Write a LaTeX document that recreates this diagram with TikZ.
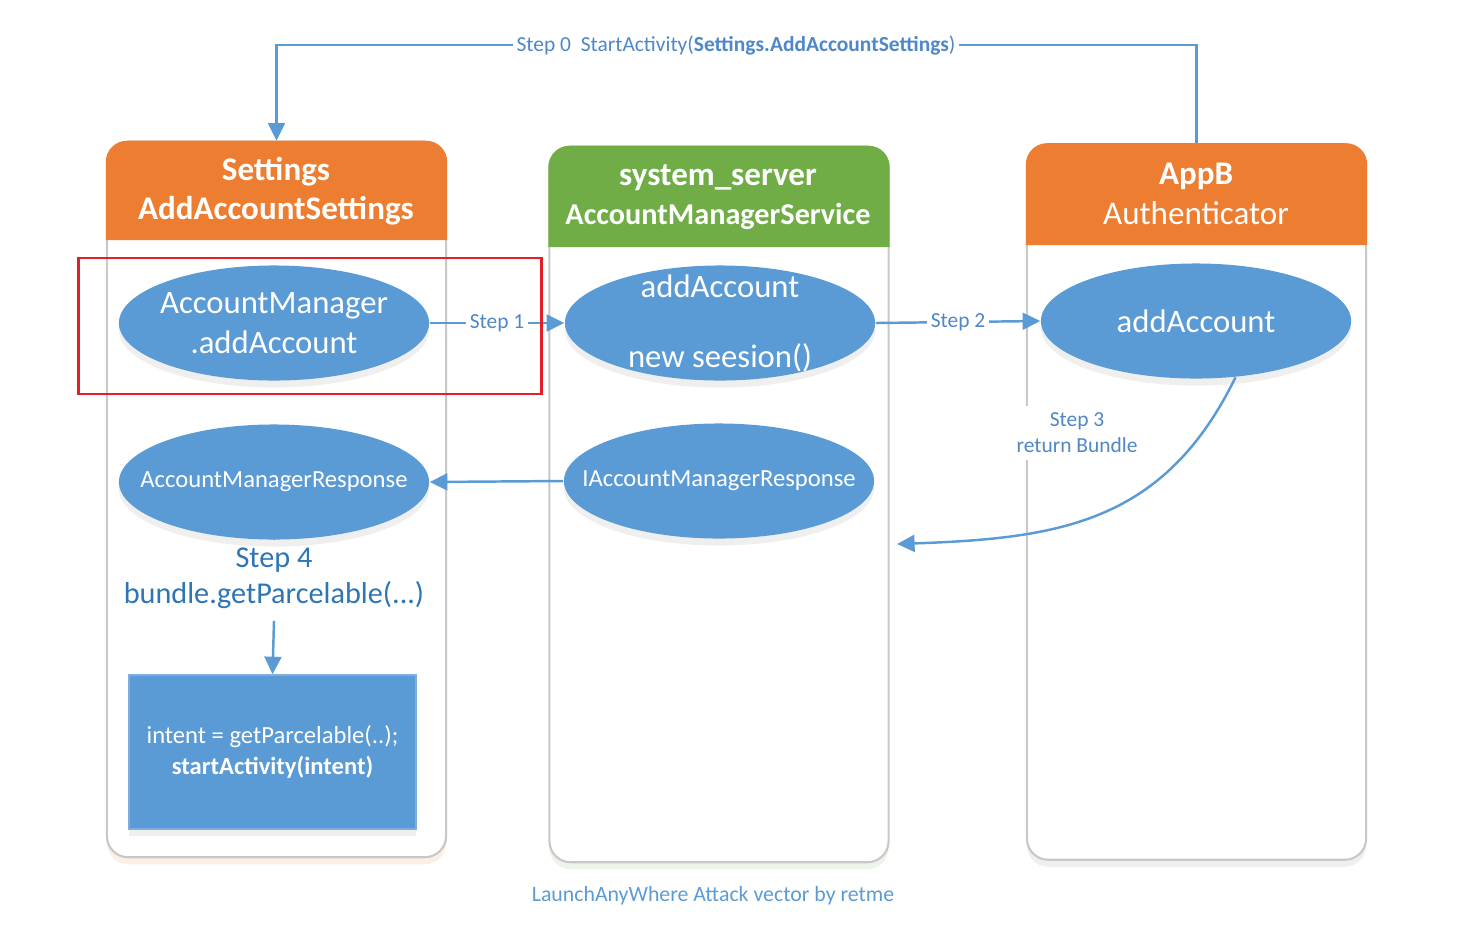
\documentclass[tikz,border=0pt]{standalone}
\usepackage{fontspec}
\setmainfont{Carlito}
\usepackage{tikz}
\usetikzlibrary{shapes.geometric, arrows.meta, positioning, shadows}
\definecolor{hdrorange}{RGB}{237,125,49}
\definecolor{hdrgreen}{RGB}{112,173,71}
\definecolor{ellblue}{RGB}{91,155,213}
\definecolor{arrowblue}{RGB}{91,155,213}
\definecolor{lblblue}{RGB}{79,135,199}
\definecolor{darklbl}{RGB}{46,117,182}
\definecolor{framegray}{RGB}{200,200,200}
\definecolor{alertred}{RGB}{227,30,36}

\begin{document}
\begin{tikzpicture}[
    x=0.01cm, y=-0.01cm,
    every node/.style={align=center},
    panel/.style={draw=framegray, fill=white, line width=0.6pt, rounded corners=6pt, minimum width=3.39cm, minimum height=7.15cm, inner sep=0pt},
    hdrtext/.style={text=white, font=\fontsize{9.4}{11.2}\selectfont},
    bigell/.style={ellipse, fill=ellblue, text=white, minimum width=3.1cm, minimum height=1.15cm, inner xsep=-0.6cm, inner ysep=-0.4cm, font=\fontsize{9.3}{11.4}\selectfont, drop shadow={shadow xshift=0pt, shadow yshift=-2pt, fill=black!20, opacity=0.3}},
    smallell/.style={bigell, font=\fontsize{7}{8.5}\selectfont},
    steplbl/.style={text=lblblue, fill=white, inner sep=1pt, font=\fontsize{6.1}{7.4}\selectfont},
    arr/.style={-{Triangle[length=5pt, width=4.8pt]}, line width=0.7pt, draw=arrowblue},
    plain/.style={line width=0.7pt, draw=arrowblue}
]
\useasboundingbox (0,0) rectangle (1474,939);

% Three swimlanes
\node[panel, drop shadow={shadow xshift=0pt, shadow yshift=-2pt, fill=hdrorange!25, opacity=0.5}] (setpanel) at (276.5,499.5) {};
\node[panel, drop shadow={shadow xshift=0pt, shadow yshift=-2pt, fill=hdrgreen!25, opacity=0.5}] (syspanel) at (719,504.5) {};
\node[panel, drop shadow={shadow xshift=0pt, shadow yshift=-2pt, fill=black!12, opacity=0.5}] (appbpanel) at (1196.5,502) {};

% Headers
\fill[hdrorange] (setpanel.west |- 0,240) [rounded corners=6pt] -- (setpanel.north west) -- (setpanel.north east) [sharp corners] -- (setpanel.east |- 0,240) -- cycle;
\fill[hdrgreen] (syspanel.west |- 0,247) [rounded corners=6pt] -- (syspanel.north west) -- (syspanel.north east) [sharp corners] -- (syspanel.east |- 0,247) -- cycle;
\fill[hdrorange] (appbpanel.west |- 0,245) [rounded corners=6pt] -- (appbpanel.north west) -- (appbpanel.north east) [sharp corners] -- (appbpanel.east |- 0,245) -- cycle;
\node[hdrtext] (sethdr) at (276,191) {\textbf{Settings}\\\textbf{AddAccountSettings}};
\node[hdrtext] (syshdr) at (718,197) {\textbf{system\_server}\\{\fontsize{8.6}{11.2}\selectfont\textbf{AccountManagerService}}};
\node[hdrtext] (appbhdr) at (1196,194) {\textbf{AppB}\\Authenticator};

% Ellipses
\node[bigell] (amadd) at (274,323) {AccountManager\\.addAccount};
\node[bigell] (amsadd) at (720,323) {addAccount\\[8.5pt]new seesion()};
\node[bigell] (authadd) at (1196,321) {addAccount};
\node[smallell] (amresp) at (274,482) {AccountManagerResponse};
\node[smallell] (iamresp) at (719,481) {IAccountManagerResponse};

% Step 4 and final box
\node[text=darklbl, font=\fontsize{8.6}{10.2}\selectfont] (step4) at (274,578) {Step 4\\bundle.getParcelable(...)};
\node[fill=ellblue, draw=ellblue!80!white, minimum width=2.87cm, minimum height=1.54cm, text=white, font=\fontsize{7}{8.8}\selectfont, drop shadow={shadow xshift=0pt, shadow yshift=-2pt, fill=black!20, opacity=0.3}] (intentbox) at (272.5,752) {intent = getParcelable(..);\\\textbf{startActivity(intent)}};

% Connectors
\coordinate (topline) at (736,45);
\draw[arr] (appbpanel.north) |- (topline) node[steplbl] {Step 0\ \ StartActivity(\textbf{Settings.AddAccountSettings})} -| (setpanel.north);
\draw[arr] (amadd.east) -- node[steplbl] {Step 1} (amsadd.west);
\draw[arr] (amsadd.east) -- node[steplbl] {Step 2} (authadd.west);
\coordinate (retend) at (897,544);
\draw[arr] (authadd.-55) to[out=-116, in=2, looseness=1.1] (retend);
\node[steplbl, inner sep=2pt] (step3) at (1077,433) {Step 3\\return Bundle};
\draw[arr] (iamresp.west) -- (amresp.east);
\draw[plain] (amresp.south) -- (step4.north);
\draw[arr] (step4.south) -- (intentbox.north);

% Highlight
\node[draw=alertred, line width=0.8pt, minimum width=4.62cm, minimum height=1.36cm] (alertbox) at (310,326) {};

% Caption
\node[text=ellblue, font=\fontsize{6.2}{7.4}\selectfont] (caption) at (713,896) {LaunchAnyWhere Attack vector by retme};
\end{tikzpicture}
\end{document}
